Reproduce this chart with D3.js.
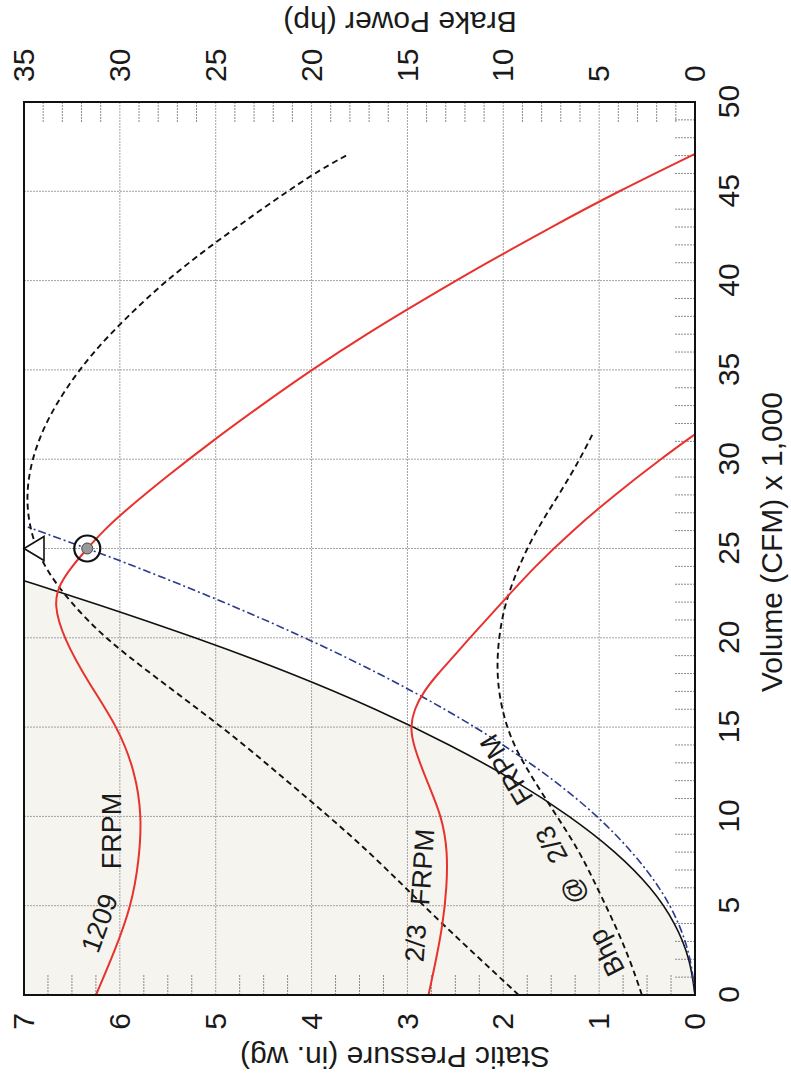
<!DOCTYPE html>
<html>
<head>
<meta charset="utf-8">
<script src="https://cdn.jsdelivr.net/npm/d3@7/dist/d3.min.js"></script>
<style>
  html, body { margin: 0; padding: 0; background: #ffffff; }
  svg { display: block; }
  text { font-family: "Liberation Sans", Arial, Helvetica, sans-serif; fill: #1a1a1a; }
</style>
</head>
<body>
<svg id="chart" width="791" height="1074"></svg>
<script>
// ---------------- data ----------------
const volumeTicks = [0, 5, 10, 15, 20, 25, 30, 35, 40, 45, 50];
const pressureTicks = [0, 1, 2, 3, 4, 5, 6, 7];
const powerTicks = [0, 5, 10, 15, 20, 25, 30, 35];

// Fan curve at 1209 FRPM : static pressure (in. wg) vs volume (CFM x 1000)
const fan1209Q = [0, 2.5, 5, 7.5, 10, 12.5, 15, 17.5, 20, 21.9, 23, 24, 25, 26, 27, 29, 31, 33, 35, 37, 39, 41, 43, 45, 47.1];
const fan1209P = [6.25, 6.05, 5.88, 5.80, 5.77, 5.84, 6.02, 6.33, 6.59, 6.69, 6.63, 6.50, 6.34, 6.17, 5.97, 5.52, 5.04, 4.53, 4.00, 3.43, 2.81, 2.17, 1.50, 0.80, 0.0];

// Fan curve at 2/3 FRPM
const fan23Q = [0, 2, 4, 6, 8, 10, 12, 14, 15, 16, 17, 18, 19, 20, 22, 24, 26, 28, 30, 31.4];
const fan23P = [2.78, 2.70, 2.63, 2.59, 2.58, 2.64, 2.80, 2.94, 2.97, 2.93, 2.83, 2.68, 2.51, 2.35, 2.01, 1.67, 1.28, 0.84, 0.36, 0.0];

// Brake power at 1209 FRPM (hp)
const bhp1209Q = [0, 2, 4, 6, 8, 10, 12, 14, 16, 18, 20, 22, 24, 26, 28, 30, 32, 34, 36, 38, 40, 42, 44, 46, 47];
const bhp1209H = [9.2, 11.2, 13.2, 15.1, 17.0, 19.1, 21.3, 23.5, 25.9, 28.4, 30.8, 32.6, 34.0, 34.7, 34.9, 34.6, 33.9, 32.8, 31.4, 29.6, 27.6, 25.2, 22.6, 19.9, 18.2];

// Brake power at 2/3 FRPM (hp)
const bhp23Q = [0, 2, 4, 6, 8, 10, 12, 14, 16, 18, 20, 22, 24, 26, 28, 30, 31.5];
const bhp23H = [2.77, 3.4, 4.2, 5.1, 6.0, 7.2, 8.4, 9.5, 10.1, 10.35, 10.25, 9.9, 9.2, 8.3, 7.1, 6.0, 5.3];

// System curve (solid black)
const systemQ = [0, 2, 4, 6, 8, 10, 12, 14, 16, 18, 20, 22, 23.2];
const systemP = [0, 0.05, 0.2, 0.45, 0.82, 1.3, 1.87, 2.55, 3.32, 4.2, 5.2, 6.3, 7.0];

// Design system curve through operating point (blue dash-dot)
const designQ = [0, 2, 4, 6, 8, 10, 12, 14, 16, 18, 20, 22, 24, 25, 26.2];
const designP = [0, 0.04, 0.16, 0.36, 0.65, 1.01, 1.46, 1.99, 2.6, 3.29, 4.06, 4.91, 5.84, 6.34, 6.96];

const operatingPoint = { q: 25, p: 6.34 };
const triangleMark = { q: 25, p: 7 };

// ---------------- drawing ----------------
const svg = d3.select("#chart");
// chart is drawn in its natural orientation (1074 x 791) and rotated 90deg CCW
const g = svg.append("g").attr("transform", "translate(0,1074) rotate(-90)");

const pLeft = 79, pRight = 972, pTop = 24, pBottom = 695;
const x = d3.scaleLinear().domain([0, 50]).range([pLeft, pRight]);
const yP = d3.scaleLinear().domain([0, 7]).range([pBottom, pTop]);
const yH = d3.scaleLinear().domain([0, 35]).range([pBottom, pTop]);

const zip = (a, b) => a.map((v, i) => [v, b[i]]);
const curve = d3.curveBasis;

// shaded region above system curve
const sysPts = zip(systemQ, systemP);
const shadeLine = d3.line().x(d => x(d[0])).y(d => yP(d[1])).curve(curve);
const shadePath = shadeLine(sysPts) + `L${x(0)},${yP(7)}Z`;
g.append("path").attr("d", shadePath).attr("fill", "#f5f4ee").attr("stroke", "none");

// grid
const grid = g.append("g").attr("stroke", "#a2a2a2").attr("stroke-width", 1).attr("stroke-dasharray", "2,1");
grid.selectAll(".gv").data(volumeTicks.slice(1, -1)).join("line")
  .attr("x1", d => x(d)).attr("x2", d => x(d)).attr("y1", pTop).attr("y2", pBottom);
grid.selectAll(".gp").data(pressureTicks.slice(1, -1)).join("line")
  .attr("x1", pLeft).attr("x2", pRight).attr("y1", d => yP(d)).attr("y2", d => yP(d));

// minor ticks
const minor = g.append("g").attr("stroke", "#8a8a8a").attr("stroke-width", 1).attr("stroke-dasharray", "2,1");
const volMinor = d3.range(1, 50).filter(v => v % 5 !== 0);
minor.selectAll(".mv").data(volMinor).join("line")
  .attr("x1", d => x(d)).attr("x2", d => x(d)).attr("y1", pBottom).attr("y2", pBottom - 21);
const presMinor = d3.range(1, 28).map(v => v / 4).filter(v => v % 1 !== 0);
minor.selectAll(".mp").data(presMinor).join("line")
  .attr("x1", pLeft).attr("x2", pLeft + 20).attr("y1", d => yP(d)).attr("y2", d => yP(d));
const powMinor = d3.range(1, 35).filter(v => v % 5 !== 0);
minor.selectAll(".mh").data(powMinor).join("line")
  .attr("x1", pRight).attr("x2", pRight - 21).attr("y1", d => yH(d)).attr("y2", d => yH(d));

// curves
const lineP = d3.line().x(d => x(d[0])).y(d => yP(d[1])).curve(curve);
const lineH = d3.line().x(d => x(d[0])).y(d => yH(d[1])).curve(curve);

g.append("path").attr("d", lineP(sysPts)).attr("fill", "none").attr("stroke", "#111").attr("stroke-width", 1.6);
g.append("path").attr("d", lineP(zip(designQ, designP))).attr("fill", "none")
  .attr("stroke", "#2b3a8c").attr("stroke-width", 1.6).attr("stroke-dasharray", "8,3,2,3");
g.append("path").attr("d", lineH(zip(bhp1209Q, bhp1209H))).attr("fill", "none")
  .attr("stroke", "#111").attr("stroke-width", 1.9).attr("stroke-dasharray", "6,4");
g.append("path").attr("d", lineH(zip(bhp23Q, bhp23H))).attr("fill", "none")
  .attr("stroke", "#111").attr("stroke-width", 1.9).attr("stroke-dasharray", "6,4");
g.append("path").attr("d", lineP(zip(fan1209Q, fan1209P))).attr("fill", "none")
  .attr("stroke", "#e8322e").attr("stroke-width", 2);
g.append("path").attr("d", lineP(zip(fan23Q, fan23P))).attr("fill", "none")
  .attr("stroke", "#e8322e").attr("stroke-width", 2);

// frame
g.append("rect").attr("x", pLeft).attr("y", pTop).attr("width", pRight - pLeft).attr("height", pBottom - pTop)
  .attr("fill", "none").attr("stroke", "#111").attr("stroke-width", 2);

// markers
const tx = x(triangleMark.q), ty = yP(triangleMark.p);
g.append("path").attr("d", `M${tx},${ty}L${tx - 12},${ty + 20}L${tx + 12},${ty + 20}Z`)
  .attr("fill", "#fff").attr("stroke", "#111").attr("stroke-width", 1.6);
g.append("circle").attr("cx", x(operatingPoint.q)).attr("cy", yP(operatingPoint.p)).attr("r", 13)
  .attr("fill", "none").attr("stroke", "#111").attr("stroke-width", 2.2);
g.append("circle").attr("cx", x(operatingPoint.q)).attr("cy", yP(operatingPoint.p)).attr("r", 5.5)
  .attr("fill", "#9a9a9a").attr("stroke", "#444").attr("stroke-width", 1);

// axes
const axFont = 30;
const axB = g.append("g").attr("transform", `translate(0,${pBottom})`)
  .call(d3.axisBottom(x).tickValues(volumeTicks).tickSize(0).tickPadding(23).tickFormat(d3.format("d")));
const axL = g.append("g").attr("transform", `translate(${pLeft},0)`)
  .call(d3.axisLeft(yP).tickValues(pressureTicks).tickSize(0).tickPadding(18).tickFormat(d3.format("d")));
const axR = g.append("g").attr("transform", `translate(${pRight},0)`)
  .call(d3.axisRight(yH).tickValues(powerTicks).tickSize(0).tickPadding(20).tickFormat(d3.format("d")));
[axB, axL, axR].forEach(a => {
  a.select(".domain").remove();
  a.selectAll("text").attr("font-size", axFont).attr("fill", "#1a1a1a")
    .attr("font-family", '"Liberation Sans", Arial, sans-serif');
});

// axis titles
g.append("text").attr("x", 532).attr("y", 782).attr("text-anchor", "middle").attr("font-size", 30)
  .text("Volume (CFM) x 1,000");
g.append("text").attr("transform", "translate(27,395) rotate(-90)").attr("text-anchor", "middle")
  .attr("font-size", 30).text("Static Pressure (in. wg)");
g.append("text").attr("transform", "translate(1062,400) rotate(-90)").attr("text-anchor", "middle")
  .attr("font-size", 30).text("Brake Power (hp)");

// in-plot labels
const labels = [
  { t: "1209", cx: 151, cy: 99, r: 20 },
  { t: "FRPM", cx: 243, cy: 111, r: 0 },
  { t: "2/3", cx: 131, cy: 415, r: 4 },
  { t: "FRPM", cx: 207, cy: 422, r: 4 },
  { t: "Bhp", cx: 121, cy: 606, r: -27 },
  { t: "@", cx: 183, cy: 573, r: -27 },
  { t: "2/3", cx: 229, cy: 551, r: -28 },
  { t: "FRPM", cx: 304, cy: 506, r: -31 }
];
g.selectAll(".lbl").data(labels).join("text")
  .attr("transform", d => `translate(${d.cx},${d.cy}) rotate(${d.r})`)
  .attr("text-anchor", "middle").attr("dy", "0.36em").attr("font-size", 27)
  .text(d => d.t);
</script>
</body>
</html>
